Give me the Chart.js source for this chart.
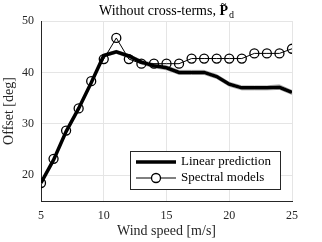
<!DOCTYPE html>
<html>
<head>
<meta charset="utf-8">
<script src="https://cdn.jsdelivr.net/npm/chart.js@4.4.0/dist/chart.umd.min.js"></script>
<style>
  html, body { margin: 0; padding: 0; background: #fff; }
  #wrap { width: 322px; height: 242px; }
</style>
</head>
<body>
<div id="wrap"><canvas id="c" width="322" height="242"></canvas></div>
<script>
// Dados
const windSpeed = [5, 6, 7, 8, 9, 10, 11, 12, 13, 14, 15, 16, 17, 18, 19, 20, 21, 22, 23, 24, 25];
const linearPred = [18.5, 23.0, 28.5, 33.0, 38.0, 43.3, 44.0, 43.2, 42.0, 41.3, 40.9, 40.0, 40.0, 40.0, 39.2, 37.7, 37.0, 37.0, 37.0, 37.1, 36.1];
const linearUpper = [18.6, 23.1, 28.6, 33.1, 38.2, 43.6, 44.3, 43.5, 42.4, 41.7, 41.3, 40.4, 40.4, 40.4, 39.6, 38.1, 37.4, 37.4, 37.4, 37.6, 36.5];
const linearLower = [18.4, 22.9, 28.4, 32.9, 37.8, 43.0, 43.7, 42.8, 41.6, 40.9, 40.5, 39.6, 39.6, 39.6, 38.8, 37.3, 36.6, 36.6, 36.6, 36.7, 35.7];
const spectral = [18.5, 23.2, 28.7, 33.0, 38.3, 42.6, 46.7, 42.6, 41.7, 41.7, 41.7, 41.7, 42.7, 42.7, 42.7, 42.7, 42.7, 43.7, 43.7, 43.7, 44.6];
const xTicks = [5, 10, 15, 20, 25];
const yTicks = [20, 30, 40, 50];

const SERIF = '"Liberation Serif", "DejaVu Serif", serif';
const toXY = (ys) => ys.map((y, i) => ({ x: windSpeed[i], y: y }));

// Título com P em negrito, til e subscrito
const titlePlugin = {
    id: 'titlePlugin',
    afterDraw(chart) {
        const ctx = chart.ctx;
        const area = chart.chartArea;
        const cx = (area.left + area.right) / 2;
        const base = 15;
        const part1 = 'Without cross-terms, ';
        ctx.save();
        ctx.fillStyle = '#000';
        ctx.textBaseline = 'alphabetic';
        ctx.font = '14px ' + SERIF;
        const w1 = ctx.measureText(part1).width;
        ctx.font = 'bold 14px ' + SERIF;
        const wP = ctx.measureText('P').width;
        ctx.font = '10px ' + SERIF;
        const wd = ctx.measureText('d').width;
        let x = cx - (w1 + wP + wd + 1) / 2;
        ctx.font = '14px ' + SERIF;
        ctx.fillText(part1, x, base);
        x += w1;
        ctx.font = 'bold 14px ' + SERIF;
        ctx.fillText('P', x, base);
        ctx.font = 'bold 10px ' + SERIF;
        ctx.textAlign = 'center';
        ctx.fillText('~', x + wP / 2, base - 8);
        ctx.textAlign = 'left';
        ctx.font = '10px ' + SERIF;
        ctx.fillText('d', x + wP + 1, base + 3);
        ctx.restore();
    }
};

// Legenda dentro da área do gráfico
const legendPlugin = {
    id: 'legendPlugin',
    afterDraw(chart) {
        const ctx = chart.ctx;
        const bx = 130, by = 151, bw = 150, bh = 38;
        ctx.save();
        ctx.fillStyle = '#fff';
        ctx.fillRect(bx, by, bw, bh);
        ctx.strokeStyle = '#262626';
        ctx.lineWidth = 1;
        ctx.strokeRect(bx + 0.5, by + 0.5, bw, bh);
        const rows = [
            { label: 'Linear prediction', width: 3.5, marker: false, y: by + 11 },
            { label: 'Spectral models', width: 1, marker: true, y: by + 27 }
        ];
        rows.forEach(r => {
            ctx.strokeStyle = '#000';
            ctx.lineWidth = r.width;
            ctx.beginPath();
            ctx.moveTo(bx + 6, r.y);
            ctx.lineTo(bx + 46, r.y);
            ctx.stroke();
            if (r.marker) {
                ctx.lineWidth = 1.3;
                ctx.fillStyle = '#fff';
                ctx.beginPath();
                ctx.arc(bx + 26, r.y, 4.5, 0, Math.PI * 2);
                ctx.fill();
                ctx.stroke();
            }
            ctx.fillStyle = '#000';
            ctx.font = '13px ' + SERIF;
            ctx.textBaseline = 'middle';
            ctx.fillText(r.label, bx + 51, r.y);
        });
        ctx.restore();
    }
};

new Chart(document.getElementById('c'), {
    type: 'line',
    data: {
        datasets: [
            { data: toXY(linearUpper), borderColor: '#b4b4b4', borderWidth: 1, pointRadius: 0, order: 4 },
            { data: toXY(linearLower), borderColor: '#b4b4b4', borderWidth: 1, pointRadius: 0, order: 3 },
            { label: 'Linear prediction', data: toXY(linearPred), borderColor: '#000', borderWidth: 3.5, pointRadius: 0, order: 2 },
            {
                label: 'Spectral models', data: toXY(spectral), borderColor: '#000', borderWidth: 1,
                pointRadius: 4.5, pointBorderWidth: 1.3, pointBorderColor: '#000',
                pointBackgroundColor: 'rgba(0,0,0,0)', order: 1
            }
        ]
    },
    options: {
        responsive: false,
        animation: false,
        layout: { padding: { left: 0, right: 30, top: 21, bottom: 0 } },
        plugins: { legend: { display: false }, tooltip: { enabled: false } },
        scales: {
            x: {
                type: 'linear', min: 5, max: 25,
                afterBuildTicks: s => { s.ticks = xTicks.map(v => ({ value: v })); },
                afterFit: s => { s.height = 41; },
                grid: { color: '#e5e5e5', drawTicks: false },
                border: { display: true, color: '#262626', width: 1 },
                ticks: { color: '#262626', font: { family: SERIF, size: 12 }, padding: 8 },
                title: { display: true, text: 'Wind speed [m/s]', color: '#262626', font: { family: SERIF, size: 14 }, padding: { top: 0, bottom: 2 } }
            },
            y: {
                min: 15, max: 50,
                afterBuildTicks: s => { s.ticks = yTicks.map(v => ({ value: v })); },
                afterFit: s => { s.width = 41; },
                grid: { color: '#e5e5e5', drawTicks: false },
                border: { display: true, color: '#262626', width: 1 },
                ticks: { color: '#262626', font: { family: SERIF, size: 12 }, padding: 7 },
                title: { display: true, text: 'Offset [deg]', color: '#262626', font: { family: SERIF, size: 14 }, padding: { top: 1, bottom: 0 } }
            }
        }
    },
    plugins: [titlePlugin, legendPlugin]
});
</script>
</body>
</html>
